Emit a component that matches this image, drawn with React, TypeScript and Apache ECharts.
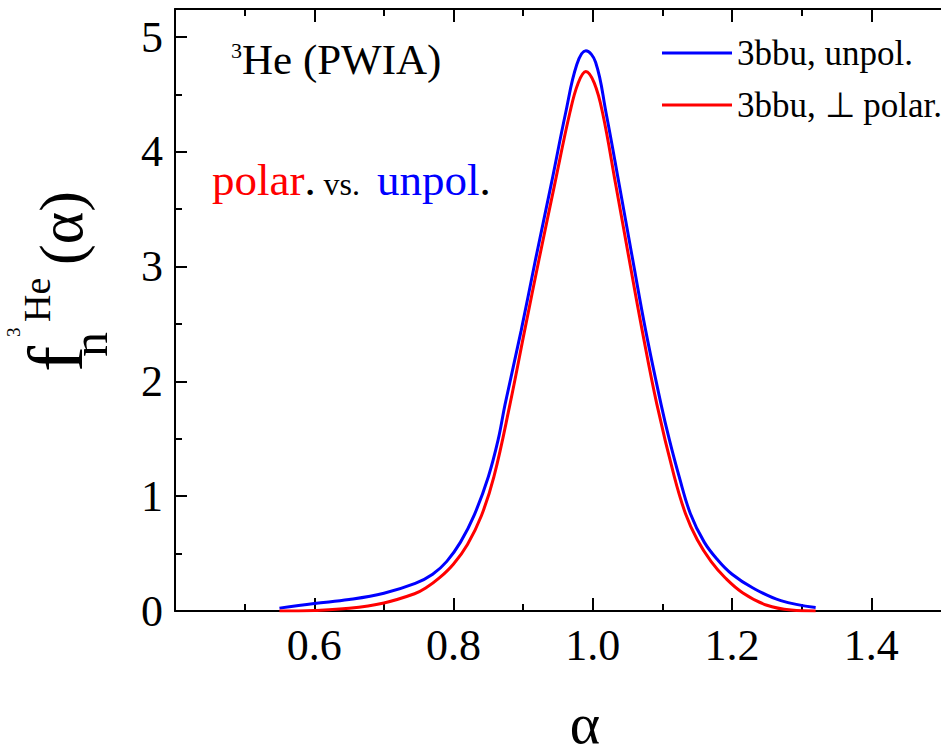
import React, { useEffect, useRef } from "react";
import * as echarts from "echarts";

const SERIF = "Liberation Serif";

// Blue curve: 3bbu, unpol.
const alphaUnpol = [0.55, 0.6, 0.65, 0.7, 0.745, 0.77, 0.79, 0.81, 0.83, 0.85, 0.864, 0.874, 0.897, 0.918, 0.94, 0.961, 0.977, 0.99, 1.004, 1.019, 1.038, 1.057, 1.076, 1.098, 1.11, 1.124, 1.14, 1.16, 1.18, 1.2, 1.23, 1.27, 1.32];
const fUnpol = [0.025, 0.065, 0.1, 0.155, 0.24, 0.32, 0.43, 0.6, 0.84, 1.17, 1.49, 1.8, 2.44, 3.07, 3.71, 4.34, 4.76, 4.88, 4.78, 4.34, 3.71, 3.07, 2.44, 1.8, 1.49, 1.17, 0.85, 0.6, 0.44, 0.32, 0.2, 0.09, 0.03];

// Red curve: 3bbu, perp polar.
const alphaPolar = [0.55, 0.6, 0.65, 0.7, 0.744, 0.76, 0.78, 0.8, 0.82, 0.84, 0.858, 0.881, 0.902, 0.923, 0.945, 0.967, 0.979, 0.99, 1.002, 1.014, 1.033, 1.052, 1.071, 1.092, 1.117, 1.133, 1.15, 1.17, 1.19, 1.215, 1.25, 1.285, 1.32];
const fPolar = [0.0, 0.005, 0.023, 0.07, 0.15, 0.2, 0.29, 0.41, 0.58, 0.83, 1.17, 1.8, 2.44, 3.07, 3.71, 4.34, 4.6, 4.7, 4.6, 4.34, 3.71, 3.07, 2.44, 1.8, 1.17, 0.85, 0.62, 0.43, 0.29, 0.16, 0.05, 0.008, 0.0];

const seriesNames = ["3bbu, unpol.", "3bbu, \u22A5 polar."];

const X_MAJOR = [0.6, 0.8, 1.0, 1.2, 1.4];
const X_MINOR = [0.5, 0.7, 0.9, 1.1, 1.3];
const Y_MAJOR = [0, 1, 2, 3, 4, 5];
const Y_MINOR = [0.5, 1.5, 2.5, 3.5, 4.5];

const X_MIN = 0.4;
const X_MAX = 1.5;
const Y_MIN = 0;
const Y_MAX = 5.244;

function txt(text: string, x: number, y: number, size: number, fill = "#000", align = "left") {
  const style: any = { text, fontSize: size, fontFamily: SERIF, fill, align, verticalAlign: "middle" };
  return { type: "text", x, y, silent: true, style };
}

// baseline -> middle offset
const mid = (baseline: number, size: number) => baseline - 0.3375 * size;

export default function App() {
  const ref = useRef<HTMLDivElement>(null);
  useEffect(() => {
    if (!ref.current) return;
    const chart = echarts.init(ref.current, undefined, { renderer: "svg" });
    const line = { color: "#000", width: 2 };
    const xAxisBase = (position: string, values: number[], len: number, main: boolean, labels: boolean) => ({
      type: "value",
      min: X_MIN,
      max: X_MAX,
      interval: 0.1,
      position,
      axisLine: { show: main, onZero: false, lineStyle: line },
      axisTick: { show: true, inside: true, length: len, lineStyle: line, customValues: values },
      axisLabel: labels
        ? {
            show: true,
            customValues: values,
            formatter: (v: number) => v.toFixed(1),
            margin: 12,
            fontSize: 44,
            fontFamily: SERIF,
            color: "#000",
          }
        : { show: false },
      splitLine: { show: false },
    });
    const yAxisBase = (values: number[], len: number, main: boolean) => ({
      type: "value",
      min: Y_MIN,
      max: Y_MAX,
      interval: 0.5,
      position: "left",
      axisLine: { show: main, onZero: false, lineStyle: line },
      axisTick: { show: true, inside: true, length: len, lineStyle: line, customValues: values },
      axisLabel: main
        ? {
            show: true,
            customValues: values,
            formatter: (v: number) => String(v),
            margin: 12,
            fontSize: 44,
            fontFamily: SERIF,
            color: "#000",
          }
        : { show: false },
      splitLine: { show: false },
    });

    const option = {
      animation: false,
      backgroundColor: "#fff",
      textStyle: { fontFamily: SERIF },
      grid: { left: 175, top: 9, width: 770, height: 602, containLabel: false },
      xAxis: [
        xAxisBase("bottom", X_MAJOR, 13, true, true),
        xAxisBase("bottom", X_MINOR, 7, false, false),
        xAxisBase("top", X_MAJOR, 13, true, false),
        xAxisBase("top", X_MINOR, 7, false, false),
      ],
      yAxis: [yAxisBase(Y_MAJOR, 12, true), yAxisBase(Y_MINOR, 7, false)],
      legend: {
        data: seriesNames,
        orient: "vertical",
        left: 657,
        top: 30.5,
        itemWidth: 70,
        itemHeight: 3,
        itemGap: 17,
        icon: "rect",
        selectedMode: false,
        textStyle: { fontSize: 35, fontFamily: SERIF, color: "#000" },
      },
      series: [
        {
          type: "line",
          name: seriesNames[0],
          xAxisIndex: 0,
          yAxisIndex: 0,
          data: alphaUnpol.map((a, i) => [a, fUnpol[i]]),
          showSymbol: false,
          symbol: "none",
          smooth: 0.4,
          lineStyle: { color: "#0000ff", width: 3 },
          itemStyle: { color: "#0000ff" },
        },
        {
          type: "line",
          name: seriesNames[1],
          xAxisIndex: 0,
          yAxisIndex: 0,
          data: alphaPolar.map((a, i) => [a, fPolar[i]]),
          showSymbol: false,
          symbol: "none",
          smooth: 0.4,
          lineStyle: { color: "#ff0000", width: 3 },
          itemStyle: { color: "#ff0000" },
        },
      ],
      graphic: [
        // panel label
        txt("3", 231, mid(58, 22), 22),
        txt("He (PWIA)", 242, mid(74, 43), 43),
        // polar. vs. unpol.
        txt("polar", 212, mid(195, 45), 45, "#ff0000"),
        txt(".", 304.5, mid(195, 45), 45),
        txt("vs.", 323.5, mid(195, 32), 32),
        txt("unpol", 377, mid(195, 45), 45, "#0000ff"),
        txt(".", 479.5, mid(195, 45), 45),
        // x axis title
        txt("\u03B1", 585, mid(743, 58), 58, "#000", "center"),
        // y axis title, rotated
        {
          type: "group",
          x: 82,
          y: 372,
          rotation: Math.PI / 2,
          silent: true,
          children: [
            txt("f", 0, mid(0, 78), 78),
            txt("n", 15, mid(25, 50), 50),
            txt("3", 35, mid(-62, 19), 19),
            txt("He", 50, mid(-32, 38), 38),
            txt("(\u03B1)", 107, mid(0, 62), 62),
          ],
        },
      ],
    };
    chart.setOption(option as any);
    return () => chart.dispose();
  }, []);
  return <div ref={ref} style={{ position: "fixed", left: 0, top: 0, width: 941, height: 756 }} />;
}
